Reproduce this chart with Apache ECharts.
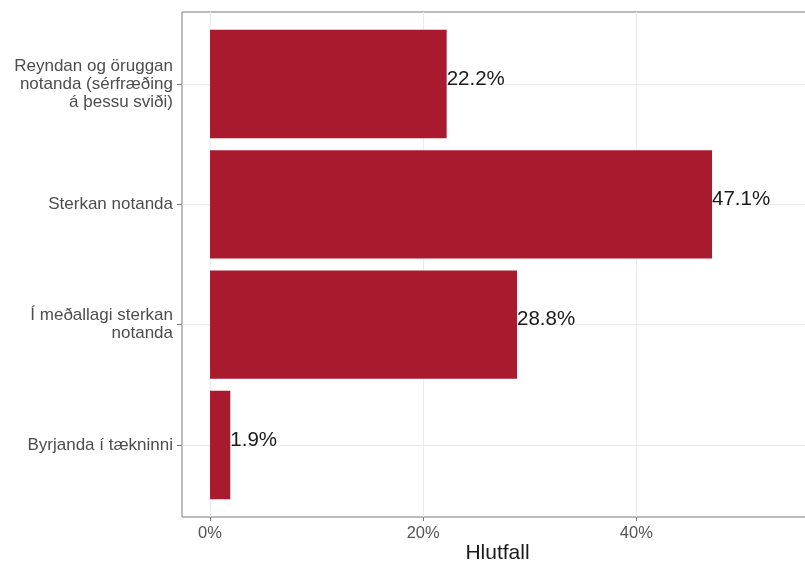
<!DOCTYPE html>
<html><head><meta charset="utf-8">
<script src="https://cdn.jsdelivr.net/npm/echarts@6/dist/echarts.min.js"></script>
<style>html,body{margin:0;padding:0;background:#fff}#c{width:805px;height:563px}</style>
</head><body><div id="c"></div>
<script>
const categories = [
  "Reyndan og öruggan\nnotanda (sérfræðing\ná þessu sviði)",
  "Sterkan notanda",
  "Í meðallagi sterkan\nnotanda",
  "Byrjanda í tækninni"
];
const values = [22.2, 47.1, 28.8, 1.9];
const xTicks = [0, 20, 40];
const xAxisTitle = "Hlutfall";

const XMIN = -2.63, XMAX = 56.57;
const font = "'Liberation Sans', Arial, sans-serif";
const chart = echarts.init(document.getElementById('c'), null, {renderer: 'canvas'});
chart.setOption({
  animation: false,
  grid: [
    {left: 182, width: 631, top: 12, height: 505, show: true, borderColor: '#7a7a7a', borderWidth: 1,
     backgroundColor: 'transparent', outerBoundsMode: 'none', containLabel: false},
    {left: 182, width: 631, top: 84, height: 361, outerBoundsMode: 'none', containLabel: false}
  ],
  xAxis: [
    {gridIndex: 0, type: 'value', min: XMIN, max: XMAX,
     name: xAxisTitle, nameLocation: 'middle', nameGap: 26, nameMoveOverlap: false,
     nameTextStyle: {fontFamily: font, fontSize: 21, color: '#1a1a1a'},
     axisLine: {show: false},
     axisTick: {show: true, length: 4, lineStyle: {color: '#7a7a7a'}, customValues: xTicks},
     axisLabel: {fontFamily: font, fontSize: 16.5, color: '#555555', margin: 8,
       customValues: xTicks, formatter: v => v + '%'},
     splitLine: {show: true, lineStyle: {color: '#ebebeb', width: 1}},
     interval: 10
    },
    {gridIndex: 1, type: 'value', min: XMIN, max: XMAX, show: false, splitLine: {show: false}}
  ],
  yAxis: [
    {gridIndex: 0, type: 'value', min: 0, max: 1, show: false, splitLine: {show: false}},
    {gridIndex: 1, type: 'category', data: categories, inverse: true, boundaryGap: false,
     axisLine: {show: false, onZero: false},
     axisTick: {show: true, length: 5, lineStyle: {color: '#7a7a7a'}},
     axisLabel: {fontFamily: font, fontSize: 17, color: '#4d4d4d', lineHeight: 18, margin: 9, align: 'right',
       padding: [3, 0, 0, 0]},
     splitLine: {show: true, lineStyle: {color: '#ebebeb', width: 1}}
    }
  ],
  series: [{
    type: 'bar', xAxisIndex: 1, yAxisIndex: 1, clip: false,
    data: values, barCategoryGap: '10%',
    itemStyle: {color: '#A91A2F'},
    z: 3,
    label: {show: true, position: 'right', distance: 0, offset: [0, -5],
      fontFamily: font, fontSize: 20.5, color: '#1a1a1a',
      formatter: p => p.value.toFixed(1) + '%'}
  }]
});
</script></body></html>
